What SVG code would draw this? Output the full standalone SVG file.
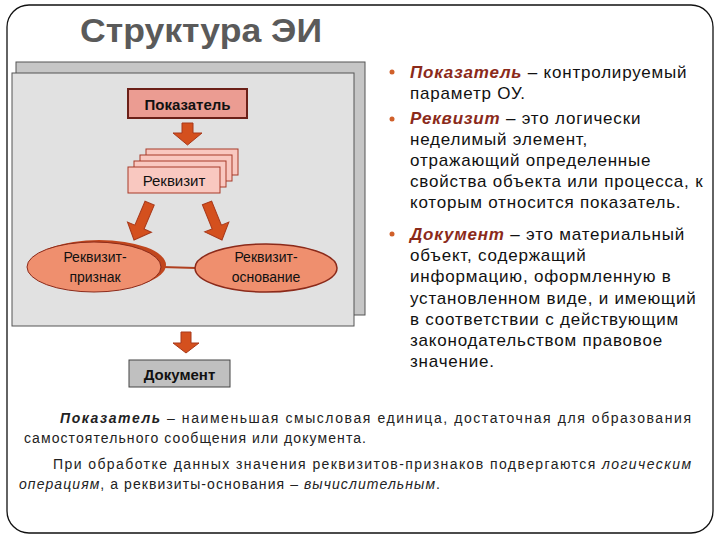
<svg xmlns="http://www.w3.org/2000/svg" width="720" height="540" viewBox="0 0 720 540">
<defs>
<style>
.t{font-family:"Liberation Sans",Arial,sans-serif;fill:#111}
.b{font-weight:bold}
.term{font-weight:bold;font-style:italic;fill:#8b2a1a}
.rt{font-family:"Liberation Sans",Arial,sans-serif;font-size:17px;letter-spacing:0.8px;fill:#111}
.bt{font-family:"Liberation Sans",Arial,sans-serif;font-size:14px;fill:#222}
.arr{fill:#d4501e;stroke:#a8381a;stroke-width:1}
.req{fill:#f9c8c0;stroke:#a83a28;stroke-width:1}
.ell{fill:#ef8f6e;stroke:#8b2a1a;stroke-width:1.5}
.bul{fill:#d0602a}
</style>
<polygon id="dn" points="-5,-40 5,-40 5,-14 13,-14 0,0 -13,-14 -5,-14"/>
</defs>
<rect x="0" y="0" width="720" height="540" fill="#ffffff"/>
<rect x="7" y="5" width="706" height="528" rx="22" ry="22" fill="none" stroke="#111" stroke-width="1.3"/>
<text x="80" y="42" class="t b" font-size="33" style="fill:#5a5a5a" textLength="242" lengthAdjust="spacingAndGlyphs">Структура ЭИ</text>

<g id="panel">
<rect x="16" y="62" width="349" height="253" fill="#c6c6c6" stroke="#555" stroke-width="1"/>
<rect x="12" y="73" width="342" height="253" fill="#e1e1e1" stroke="#555" stroke-width="1"/>
</g>

<g id="connectors">
<polygon class="arr" points="182,123 193,123 193,133 202,133 187.5,145 173,133 182,133"/>
<use href="#dn" class="arr" transform="translate(134,240) rotate(23)"/>
<use href="#dn" class="arr" transform="translate(222,240) rotate(-22)"/>
<line x1="162" y1="267" x2="196" y2="268" stroke="#b04020" stroke-width="2"/>
<polygon class="arr" points="181,332 191,332 191,343 199,343 186,353 173,343 181,343"/>
</g>

<g id="node-pokazatel">
<rect x="128" y="89" width="119" height="29" fill="#eb9c92" stroke="#6b2018" stroke-width="2"/>
<text x="187.5" y="110" text-anchor="middle" class="t b" font-size="15">Показатель</text>
</g>

<g id="node-rekvizit">
<rect class="req" x="146" y="149" width="92" height="26"/>
<rect class="req" x="140" y="155" width="92" height="26"/>
<rect class="req" x="134" y="161" width="92" height="26"/>
<rect class="req" x="128" y="167" width="92" height="26"/>
<text x="174" y="186" text-anchor="middle" class="t" font-size="15">Реквизит</text>
</g>

<g id="node-priznak">
<ellipse cx="99" cy="265" rx="67" ry="25" fill="#c0461e"/>
<ellipse cx="94" cy="267" rx="67" ry="25" class="ell" style="stroke-width:1"/>
<text x="95" y="262" text-anchor="middle" class="t" font-size="14">Реквизит-</text>
<text x="95" y="282" text-anchor="middle" class="t" font-size="14">признак</text>
</g>

<g id="node-osnovanie">
<ellipse cx="266" cy="268" rx="71" ry="24" class="ell"/>
<text x="266" y="262" text-anchor="middle" class="t" font-size="14">Реквизит-</text>
<text x="266" y="282" text-anchor="middle" class="t" font-size="14">основание</text>
</g>

<g id="node-dokument">
<rect x="129" y="360" width="101" height="27" fill="#c0c0c0" stroke="#444" stroke-width="1"/>
<text x="179.5" y="380" text-anchor="middle" class="t b" font-size="15">Документ</text>
</g>

<g id="definitions">
<circle class="bul" cx="392" cy="72" r="2.5"/>
<circle class="bul" cx="392" cy="119" r="2.5"/>
<circle class="bul" cx="392" cy="234" r="2.5"/>
<text class="rt" x="410" y="78"><tspan class="term">Показатель</tspan> – контролируемый</text>
<text class="rt" x="410" y="99">параметр ОУ.</text>
<text class="rt" x="410" y="124"><tspan class="term">Реквизит</tspan> – это логически</text>
<text class="rt" x="410" y="145">неделимый элемент,</text>
<text class="rt" x="410" y="166">отражающий определенные</text>
<text class="rt" x="410" y="187">свойства объекта или процесса, к</text>
<text class="rt" x="410" y="208">которым относится показатель.</text>
<text class="rt" x="410" y="240"><tspan class="term">Документ</tspan> – это материальный</text>
<text class="rt" x="410" y="261">объект, содержащий</text>
<text class="rt" x="410" y="282">информацию, оформленную в</text>
<text class="rt" x="410" y="304">установленном виде, и имеющий</text>
<text class="rt" x="410" y="325">в соответствии с действующим</text>
<text class="rt" x="410" y="346">законодательством правовое</text>
<text class="rt" x="410" y="367">значение.</text>
</g>

<g id="footnote">
<text class="bt" x="60" y="423" textLength="631" lengthAdjust="spacing"><tspan font-weight="bold" font-style="italic">Показатель</tspan> – наименьшая смысловая единица, достаточная для образования</text>
<text class="bt" x="24" y="443" textLength="342" lengthAdjust="spacing">самостоятельного сообщения или документа.</text>
<text class="bt" x="53" y="469" textLength="638" lengthAdjust="spacing">При обработке данных значения реквизитов-признаков подвергаются <tspan font-style="italic">логическим</tspan></text>
<text class="bt" x="19" y="489" textLength="421" lengthAdjust="spacing"><tspan font-style="italic">операциям</tspan>, а реквизиты-основания – <tspan font-style="italic">вычислительным</tspan>.</text>
</g>
</svg>
